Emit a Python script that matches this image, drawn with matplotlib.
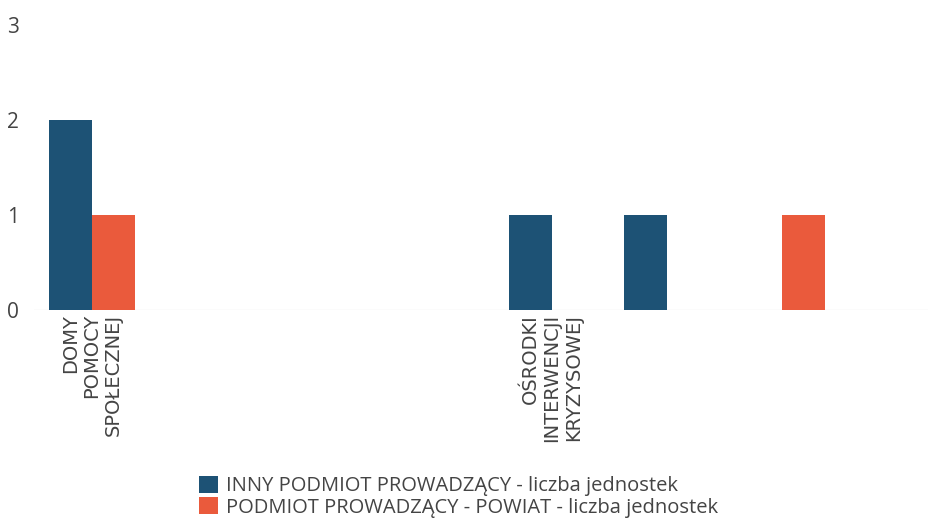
import matplotlib
matplotlib.use("Agg")
import matplotlib.pyplot as plt
import numpy as np

categories = ["DOMY\nPOMOCY\nSPOŁECZNEJ", "", "", "", "OŚRODKI\nINTERWENCJI\nKRYZYSOWEJ", "", ""]
inny_values = [2, 0, 0, 0, 1, 1, 0]
powiat_values = [1, 0, 0, 0, 0, 0, 1]
series_names = ["INNY PODMIOT PROWADZĄCY - liczba jednostek",
                "PODMIOT PROWADZĄCY - POWIAT - liczba jednostek"]
y_ticks = [0, 1, 2, 3]

BLUE = "#1d5275"
RED = "#ea5a3c"

W, H = 929, 519
fig = plt.figure(figsize=(W / 100, H / 100), dpi=100)
left_px, zero_px, top_px = 34.5, 310, 6
ax = fig.add_axes([left_px / W, (H - zero_px) / H, (W - left_px) / W, (zero_px - top_px) / H])

x = np.arange(len(categories))
bw = 0.37
ax.bar(x - bw / 2, inny_values, width=bw, color=BLUE, label=series_names[0], zorder=3)
ax.bar(x + bw / 2, powiat_values, width=bw, color=RED, label=series_names[1], zorder=3)

ax.set_xlim(-0.5, -0.5 + (W - left_px) / 115)
ax.set_ylim(0, 3.2)
ax.axhline(0, color="#ececec", lw=1, zorder=1)

for s in ax.spines.values():
    s.set_visible(False)

ax.set_yticks(y_ticks)
ax.set_yticklabels([str(v) for v in y_ticks], fontfamily="Open Sans", fontsize=15, color="#444444")
ax.tick_params(axis="y", length=0, pad=11)

ax.set_xticks(x)
ax.set_xticklabels(categories, rotation=90, fontfamily="DejaVu Sans", fontsize=14,
                   color="#444444", multialignment="right", linespacing=1.15)
ax.tick_params(axis="x", length=0, pad=3)

fig.legend(loc="upper left", bbox_to_anchor=(199 / W, 1 - 476 / H), frameon=False,
           prop={"family": "Open Sans", "size": 14.5}, handlelength=0.95, handleheight=0.9,
           handletextpad=0.4, labelspacing=0.05, borderpad=0, borderaxespad=0,
           labelcolor="#444444")

fig.savefig("out.png", dpi=100)
